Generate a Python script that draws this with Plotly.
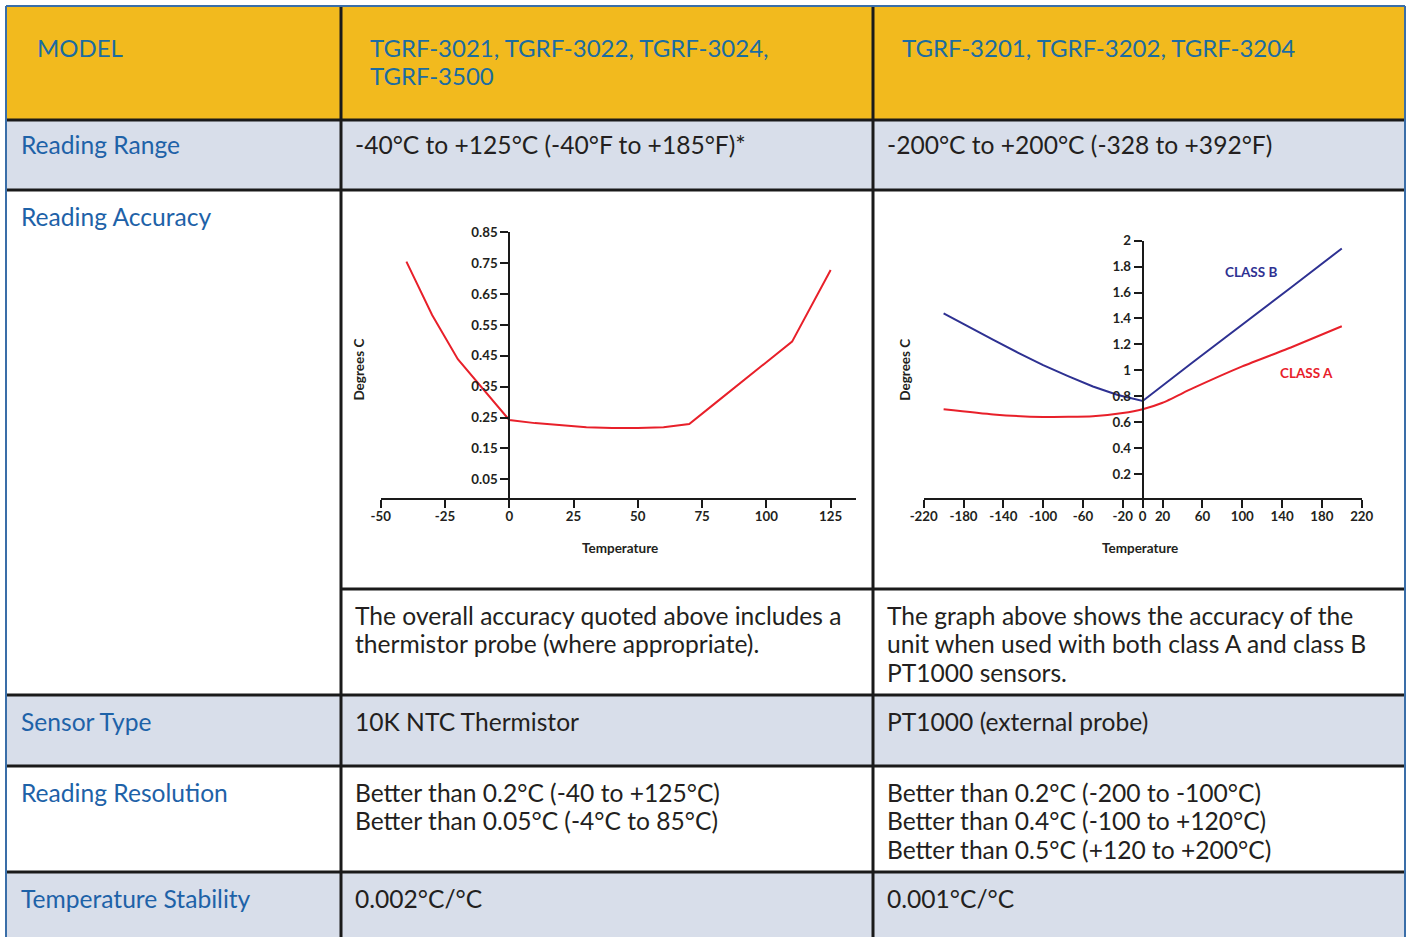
import plotly.graph_objects as go

W, H = 1408, 937

# ---------------- data ----------------
header_texts = ["MODEL",
                "TGRF-3021, TGRF-3022, TGRF-3024,<br>TGRF-3500",
                "TGRF-3201, TGRF-3202, TGRF-3204"]
row_labels = ["Reading Range", "Reading Accuracy", "Sensor Type",
              "Reading Resolution", "Temperature Stability"]
range_texts = ["-40°C to +125°C (-40°F to +185°F)*",
               "-200°C to +200°C (-328 to +392°F)"]
accuracy_notes = ["The overall accuracy quoted above includes a<br>thermistor probe (where appropriate).",
                  "The graph above shows the accuracy of the<br>unit when used with both class A and class B<br>PT1000 sensors."]
sensor_texts = ["10K NTC Thermistor", "PT1000 (external probe)"]
resolution_texts = ["Better than 0.2°C (-40 to +125°C)<br>Better than 0.05°C (-4°C to 85°C)",
                    "Better than 0.2°C (-200 to -100°C)<br>Better than 0.4°C (-100 to +120°C)<br>Better than 0.5°C (+120 to +200°C)"]
stability_texts = ["0.002°C/°C", "0.001°C/°C"]

# chart 1 (10K NTC thermistor)
ntc_temp = [-40, -30, -20, 0, 10, 20, 30, 40, 50, 60, 70, 80, 90, 100, 110, 125]
ntc_acc = [0.755, 0.582, 0.439, 0.242, 0.232, 0.225, 0.219, 0.216, 0.216, 0.219,
           0.229, 0.296, 0.363, 0.43, 0.496, 0.728]
ntc_xticks = [-50, -25, 0, 25, 50, 75, 100, 125]
ntc_yticks = [0.05, 0.15, 0.25, 0.35, 0.45, 0.55, 0.65, 0.75, 0.85]

# chart 2 (PT1000)
pt_temp_a = [-200, -150, -100, -50, -20, 0, 20, 50, 100, 150, 200]
pt_class_a = [0.70, 0.66, 0.64, 0.645, 0.67, 0.70, 0.75, 0.86, 1.03, 1.18, 1.34]
pt_temp_b = [-200, -175, -150, -125, -100, -75, -50, -25, 0, 50, 100, 150, 200]
pt_class_b = [1.44, 1.335, 1.235, 1.135, 1.04, 0.955, 0.875, 0.81, 0.763, 1.06, 1.35, 1.645, 1.94]
pt_xticks = [-220, -180, -140, -100, -60, -20, 0, 20, 60, 100, 140, 180, 220]
pt_yticks = [0.2, 0.4, 0.6, 0.8, 1.0, 1.2, 1.4, 1.6, 1.8, 2.0]
pt_yticktext = ["0.2", "0.4", "0.6", "0.8", "1", "1.2", "1.4", "1.6", "1.8", "2"]

# ---------------- styles ----------------
YELLOW = "#F2BA1E"
GREYBLUE = "#D8DEEA"
HEAD_BLUE = "#1B6CA2"
LABEL_BLUE = "#1E62A8"
TEXT = "#231F20"
LINE = "#1A1A1A"
RED = "#E8202A"
NAVY = "#2E3192"
FONT = "Lato"
FS = 24.6
LINE_GAP = 28.7


def px(x):
    return x / W


def py(y):
    return 1 - y / H


fig = go.Figure()

fig.add_trace(go.Scatter(x=ntc_temp, y=ntc_acc, mode="lines",
                         line=dict(color=RED, width=2), xaxis="x", yaxis="y",
                         showlegend=False, hoverinfo="skip"))
fig.add_trace(go.Scatter(x=pt_temp_b, y=pt_class_b, mode="lines",
                         line=dict(color=NAVY, width=2), xaxis="x2", yaxis="y2",
                         showlegend=False, hoverinfo="skip"))
fig.add_trace(go.Scatter(x=pt_temp_a, y=pt_class_a, mode="lines",
                         line=dict(color=RED, width=2, shape="spline", smoothing=0.5),
                         xaxis="x2", yaxis="y2", showlegend=False, hoverinfo="skip"))

shapes = []
bands = [(6, 120, YELLOW), (120, 190, GREYBLUE), (190, 695, "white"),
         (695, 766, GREYBLUE), (766, 872, "white"), (872, 940, GREYBLUE)]
for y0, y1, c in bands:
    shapes.append(dict(type="rect", xref="paper", yref="paper",
                       x0=px(6), x1=px(1405), y0=py(y1), y1=py(y0),
                       fillcolor=c, line=dict(width=0), layer="below"))
for yy in [120, 190, 695, 766, 872]:
    shapes.append(dict(type="line", xref="paper", yref="paper",
                       x0=px(6), x1=px(1405), y0=py(yy), y1=py(yy),
                       line=dict(color=LINE, width=3)))
shapes.append(dict(type="line", xref="paper", yref="paper",
                   x0=px(341), x1=px(1405), y0=py(589), y1=py(589),
                   line=dict(color=LINE, width=3)))
for xx in [341, 873]:
    shapes.append(dict(type="line", xref="paper", yref="paper",
                       x0=px(xx), x1=px(xx), y0=py(6), y1=py(940),
                       line=dict(color=LINE, width=3)))
for x0, y0, x1, y1 in [(6, 6, 6, 940), (1405, 6, 1405, 940), (6, 6, 1405, 6)]:
    shapes.append(dict(type="line", xref="paper", yref="paper",
                       x0=px(x0), x1=px(x1), y0=py(y0), y1=py(y1),
                       line=dict(color="#3A6EA8", width=2)))

ann = []


def text(x, y, s, color=TEXT, size=FS):
    # each line placed separately so the line spacing matches
    for k, line in enumerate(s.split("<br>")):
        ann.append(dict(x=px(x - 3), y=py(y + k * LINE_GAP), xref="paper", yref="paper",
                        text=line, showarrow=False, xanchor="left", yanchor="middle",
                        align="left", font=dict(family=FONT, size=size, color=color)))


text(38, 47, header_texts[0], HEAD_BLUE, 24)
text(371, 47, header_texts[1], HEAD_BLUE, 24)
text(903, 47, header_texts[2], HEAD_BLUE, 24)

label_y = [145, 216, 721, 792, 898]
for lab, yy in zip(row_labels, label_y):
    text(22, yy, lab, LABEL_BLUE)

for i, xx in enumerate([356, 888]):
    text(xx, 145, range_texts[i])
    text(xx, 615, accuracy_notes[i])
    text(xx, 721, sensor_texts[i])
    text(xx, 792, resolution_texts[i])
    text(xx, 898, stability_texts[i])

# chart texts
small = dict(family=FONT, size=13.5, color=TEXT, weight="bold")
for xx, yy, s in [(358.6, 370, "Degrees C"), (904.7, 370, "Degrees C")]:
    ann.append(dict(x=px(xx), y=py(yy), xref="paper", yref="paper", text=s,
                    textangle=-90, showarrow=False, xanchor="center", yanchor="middle",
                    font=small))
for xx, s in [(620, "Temperature"), (1140.4, "Temperature")]:
    ann.append(dict(x=px(xx), y=py(548.3), xref="paper", yref="paper", text=s,
                    showarrow=False, xanchor="center", yanchor="middle", font=small))
ann.append(dict(x=px(1251), y=py(272.3), xref="paper", yref="paper", text="CLASS B",
                showarrow=False, xanchor="center", yanchor="middle",
                font=dict(family=FONT, size=13.5, color=NAVY, weight="bold")))
ann.append(dict(x=px(1306), y=py(373.3), xref="paper", yref="paper", text="CLASS A",
                showarrow=False, xanchor="center", yanchor="middle",
                font=dict(family=FONT, size=13.5, color=RED, weight="bold")))

axis_common = dict(showgrid=False, zeroline=False, showline=True, linecolor=LINE,
                   linewidth=2, ticks="outside", ticklen=8, tickwidth=2, tickcolor=LINE,
                   tickfont=dict(family=FONT, size=13.3, color=TEXT, weight="bold"),
                   fixedrange=True, automargin=False)

fig.update_layout(
    width=W, height=H, margin=dict(l=0, r=0, t=0, b=0, pad=0, autoexpand=False),
    paper_bgcolor="white", plot_bgcolor="rgba(0,0,0,0)",
    shapes=shapes, annotations=ann, showlegend=False,
    xaxis=dict(domain=[px(380.7), px(855.6)], range=[-50, 134.7], anchor="y",
               tickmode="array", tickvals=ntc_xticks,
               ticktext=[str(v) for v in ntc_xticks], ticklabelstandoff=-3,
               **axis_common),
    yaxis=dict(domain=[py(498.3), py(232.3)], range=[-0.0115, 0.85], anchor="free",
               position=px(509.3), tickmode="array", tickvals=ntc_yticks,
               ticktext=[f"{v:.2f}" for v in ntc_yticks], **axis_common),
    xaxis2=dict(domain=[px(923.7), px(1361.7)], range=[-220, 220], anchor="y2",
                tickmode="array", tickvals=pt_xticks,
                ticktext=[str(v) for v in pt_xticks], ticklabelstandoff=-3,
                **axis_common),
    yaxis2=dict(domain=[py(498.3), py(240.7)], range=[0.0125, 2], anchor="free",
                position=px(1142.7), tickmode="array", tickvals=pt_yticks,
                ticktext=pt_yticktext, **axis_common),
)

fig.write_html("out.html", config={"displayModeBar": False},
               post_script="document.body.style.margin='0';document.body.style.overflow='hidden';")
